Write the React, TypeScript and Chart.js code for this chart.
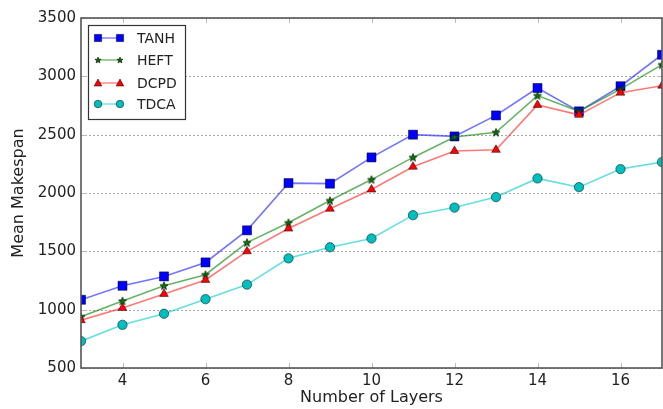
import React, { useEffect, useRef } from 'react';
import { Chart, registerables } from 'chart.js';

Chart.register(...registerables);

const layers = [3, 4, 5, 6, 7, 8, 9, 10, 11, 12, 13, 14, 15, 16, 17];
const tanh = [1085, 1205, 1285, 1405, 1680, 2085, 2080, 2305, 2500, 2485, 2665, 2900, 2700, 2915, 3185];
const heft = [940, 1075, 1205, 1300, 1575, 1745, 1935, 2115, 2305, 2480, 2520, 2835, 2700, 2890, 3100];
const dcpd = [910, 1015, 1135, 1255, 1500, 1695, 1865, 2030, 2225, 2360, 2370, 2755, 2670, 2860, 2920];
const tdca = [730, 870, 965, 1090, 1215, 1440, 1535, 1610, 1810, 1875, 1965, 2125, 2050, 2205, 2265];
const xTicks = [4, 6, 8, 10, 12, 14, 16];
const yTicks = [500, 1000, 1500, 2000, 2500, 3000, 3500];
const seriesNames = ['TANH', 'HEFT', 'DCPD', 'TDCA'];

const FONT = "'DejaVu Sans', sans-serif";

function starPath(ctx: CanvasRenderingContext2D, cx: number, cy: number, r: number) {
  const inner = r * 0.42;
  ctx.beginPath();
  for (let i = 0; i < 10; i++) {
    const rr = i % 2 === 0 ? r : inner;
    const a = -Math.PI / 2 + (i * Math.PI) / 5;
    const x = cx + rr * Math.cos(a);
    const y = cy + rr * Math.sin(a);
    if (i === 0) ctx.moveTo(x, y);
    else ctx.lineTo(x, y);
  }
  ctx.closePath();
}

function makeStar(): HTMLCanvasElement {
  const c = document.createElement('canvas');
  c.width = 10;
  c.height = 10;
  const ctx = c.getContext('2d')!;
  starPath(ctx, 5, 5.3, 4.3);
  ctx.fillStyle = '#007a00';
  ctx.fill();
  ctx.lineWidth = 0.6;
  ctx.strokeStyle = '#000';
  ctx.stroke();
  return c;
}

function drawMarker(ctx: CanvasRenderingContext2D, kind: string, x: number, y: number, fill: string) {
  ctx.save();
  ctx.fillStyle = fill;
  ctx.strokeStyle = '#000';
  ctx.lineWidth = 0.5;
  if (kind === 'rect') {
    ctx.beginPath();
    ctx.rect(x - 3.6, y - 3.6, 7.2, 7.2);
    ctx.fill();
    ctx.stroke();
  } else if (kind === 'star') {
    starPath(ctx, x, y + 0.3, 3.2);
    ctx.fillStyle = '#007a00';
    ctx.fill();
    ctx.lineWidth = 0.6;
    ctx.stroke();
  } else if (kind === 'triangle') {
    ctx.beginPath();
    ctx.moveTo(x, y - 4);
    ctx.lineTo(x + 3.8, y + 3);
    ctx.lineTo(x - 3.8, y + 3);
    ctx.closePath();
    ctx.fill();
    ctx.stroke();
  } else {
    ctx.beginPath();
    ctx.arc(x, y, 3.8, 0, Math.PI * 2);
    ctx.fill();
    ctx.stroke();
  }
  ctx.restore();
}

const markerKinds = ['rect', 'star', 'triangle', 'circle'];
const markerFills = ['#0000ff', '#007a00', '#ff0000', '#00bfbf'];
const lineColors = ['rgba(40,40,255,0.65)', 'rgba(0,128,0,0.6)', 'rgba(255,30,30,0.6)', 'rgba(0,200,200,0.6)'];

const framePlugin = {
  id: 'frameAndTicks',
  beforeDatasetsDraw(chart: any) {
    const { ctx, chartArea: a, scales } = chart;
    ctx.save();
    ctx.strokeStyle = '#a8a8a8';
    ctx.lineWidth = 1;
    ctx.setLineDash([2, 2]);
    ctx.beginPath();
    for (const v of yTicks) {
      const py = Math.round(scales.y.getPixelForValue(v)) + 0.5;
      ctx.moveTo(a.left, py);
      ctx.lineTo(a.right, py);
    }
    ctx.stroke();
    ctx.restore();
  },
  afterDatasetsDraw(chart: any) {
    const { ctx, chartArea: a, scales } = chart;
    ctx.save();
    ctx.strokeStyle = '#bbbbbb';
    ctx.lineWidth = 1;
    ctx.beginPath();
    for (const v of xTicks) {
      const px = Math.round(scales.x.getPixelForValue(v)) + 0.5;
      ctx.moveTo(px, a.bottom);
      ctx.lineTo(px, a.bottom - 5);
      ctx.moveTo(px, a.top);
      ctx.lineTo(px, a.top + 5);
    }
    for (const v of yTicks) {
      const py = Math.round(scales.y.getPixelForValue(v)) + 0.5;
      ctx.moveTo(a.left, py);
      ctx.lineTo(a.left + 5, py);
      ctx.moveTo(a.right, py);
      ctx.lineTo(a.right - 5, py);
    }
    ctx.stroke();
    ctx.strokeStyle = '#555555';
    ctx.lineWidth = 1.6;
    ctx.strokeRect(a.left, a.top, a.right - a.left, a.bottom - a.top);
    ctx.restore();
  },
  afterDraw(chart: any) {
    const { ctx } = chart;
    ctx.save();
    ctx.fillStyle = '#ffffff';
    ctx.fillRect(88, 25, 97, 94);
    ctx.strokeStyle = '#333333';
    ctx.lineWidth = 1.2;
    ctx.strokeRect(88.5, 25.5, 97, 94);
    const rows = [38, 60, 83, 104];
    ctx.font = `14px ${FONT}`;
    ctx.textBaseline = 'middle';
    ctx.textAlign = 'left';
    chart.data.datasets.forEach((ds: any, i: number) => {
      const y = rows[i];
      ctx.strokeStyle = lineColors[i];
      ctx.lineWidth = 1.3;
      ctx.beginPath();
      ctx.moveTo(98, y);
      ctx.lineTo(120, y);
      ctx.stroke();
      drawMarker(ctx, markerKinds[i], 98, y, markerFills[i]);
      drawMarker(ctx, markerKinds[i], 120, y, markerFills[i]);
      ctx.fillStyle = '#222222';
      ctx.fillText(ds.label, 137, y + 1);
    });
    ctx.restore();
  },
};

export default function App() {
  const ref = useRef<HTMLCanvasElement | null>(null);
  useEffect(() => {
    if (!ref.current) return;
    const star = makeStar();
    const pointStyles: any[] = ['rect', star, 'triangle', 'circle'];
    const radii = [6.4, 5, 5, 4.7];
    const seriesData = [tanh, heft, dcpd, tdca];
    const chart = new Chart(ref.current, {
      type: 'line',
      data: {
        datasets: seriesData.map((vals, i) => ({
          label: seriesNames[i],
          data: layers.map((x, j) => ({ x, y: vals[j] })),
          borderColor: lineColors[i],
          borderWidth: 1.6,
          backgroundColor: markerFills[i],
          pointBackgroundColor: markerFills[i],
          pointBorderColor: '#000000',
          pointBorderWidth: 0.5,
          pointStyle: pointStyles[i],
          pointRadius: radii[i],
          tension: 0,
          fill: false,
          clip: 0,
          order: 3 - i,
        })),
      },
      options: {
        animation: false,
        responsive: false,
        events: [],
        layout: { autoPadding: false, padding: { top: 18, right: 1, left: 0, bottom: 0 } },
        plugins: { legend: { display: false }, tooltip: { enabled: false }, title: { display: false } },
        scales: {
          x: {
            type: 'linear',
            min: 3,
            max: 17,
            afterBuildTicks: (s: any) => {
              s.ticks = xTicks.map((v) => ({ value: v }));
            },
            afterFit: (s: any) => {
              s.height = 41;
              s.paddingLeft = 0;
              s.paddingRight = 0;
            },
            grid: { display: false, drawTicks: false },
            border: { display: false },
            ticks: {
              font: { family: FONT, size: 15 },
              color: '#222222',
              padding: 4,
              maxRotation: 0,
              autoSkip: false,
              callback: (v: any) => String(v),
            },
            title: {
              display: true,
              text: 'Number of Layers',
              font: { family: FONT, size: 16 },
              color: '#222222',
              padding: { top: 0, bottom: 2 },
            },
          },
          y: {
            type: 'linear',
            min: 500,
            max: 3500,
            afterBuildTicks: (s: any) => {
              s.ticks = yTicks.map((v) => ({ value: v }));
            },
            afterFit: (s: any) => {
              s.width = 81;
            },
            grid: { display: false, drawTicks: false },
            border: { display: false },
            ticks: {
              font: { family: FONT, size: 15 },
              color: '#222222',
              padding: 5,
              autoSkip: false,
              callback: (v: any) => String(v),
            },
            title: {
              display: true,
              text: 'Mean Makespan',
              font: { family: FONT, size: 16 },
              color: '#222222',
              padding: { top: 9, bottom: 0 },
            },
          },
        },
      },
      plugins: [framePlugin],
    });
    return () => chart.destroy();
  }, []);
  return (
    <div style={{ position: 'absolute', left: 0, top: 0, width: 663, height: 409, background: '#fff' }}>
      <canvas ref={ref} width={663} height={409} style={{ width: 663, height: 409, display: 'block' }} />
    </div>
  );
}
